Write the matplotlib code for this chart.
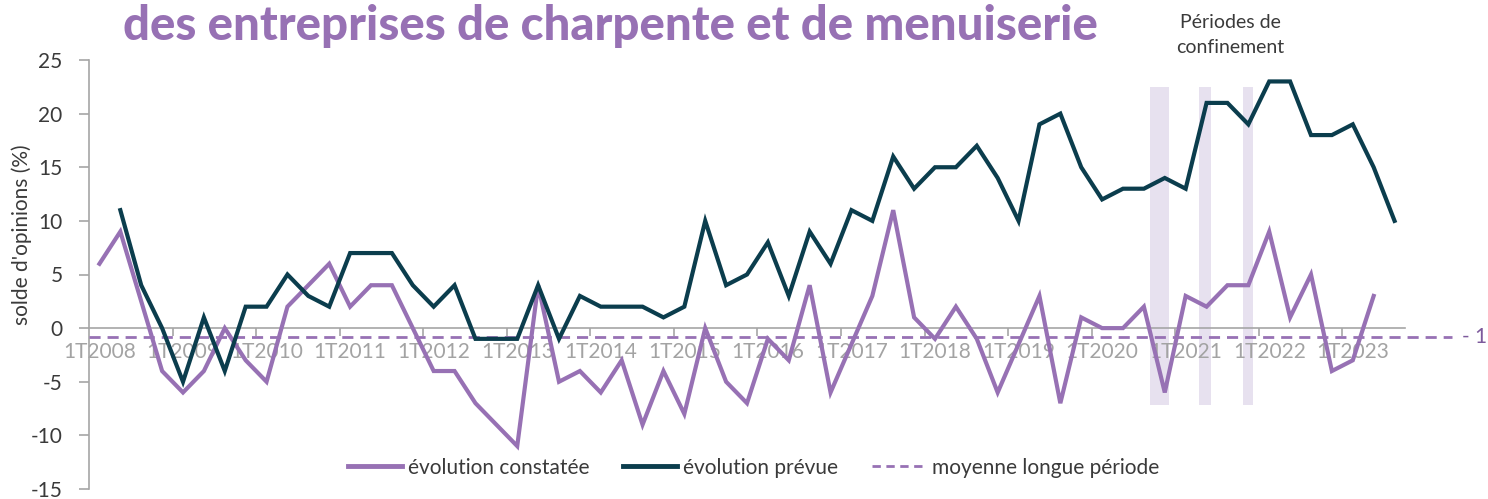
import numpy as np
import matplotlib
matplotlib.use("Agg")
import matplotlib.pyplot as plt
from matplotlib.lines import Line2D

# ---------------- data ----------------
years = list(range(2008, 2024))
quarters = [f"{q}T{y}" for y in years for q in (1, 2, 3, 4)][:63]

evolution_constatee = [6, 9, 2.5, -4, -6, -4, 0, -3, -5, 2, 4, 6, 2, 4, 4, 0,
                       -4, -4, -7, -9, -11, 4, -5, -4, -6, -3, -9, -4, -8, 0, -5, -7,
                       -1, -3, 4, -6, -1.5, 3, 11, 1, -1, 2, -1, -6, -1.5, 3, -7, 1,
                       0, 0, 2, -6, 3, 2, 4, 4, 9, 1, 5, -4, -3, 3, np.nan]
evolution_prevue = [np.nan, 11, 4, 0, -5, 1, -4, 2, 2, 5, 3, 2, 7, 7, 7, 4,
                    2, 4, -1, -1, -1, 4, -1, 3, 2, 2, 2, 1, 2, 10, 4, 5,
                    8, 3, 9, 6, 11, 10, 16, 13, 15, 15, 17, 14, 10, 19, 20, 15,
                    12, 13, 13, 14, 13, 21, 21, 19, 23, 23, 18, 18, 19, 15, 10]
moyenne_longue_periode = -0.8
moyenne_label = "- 1"
# confinement bands (start, end) in quarter-index units
confinements = [(50.3, 51.2), (52.65, 53.2), (54.75, 55.2)]
band_range = (-7.2, 22.5)
yticks = [25, 20, 15, 10, 5, 0, -5, -10, -15]

PURPLE = "#9771B4"
DARK = "#0B3D4D"
BAND = "#E7E1EF"
GRAY = "#A6A6A6"
TXT = "#3A3A3A"

plt.rcParams['font.family'] = ['Lato', 'DejaVu Sans']

W, H = 1488, 499
fig = plt.figure(figsize=(W / 100, H / 100), dpi=100)
left, right, top, bottom = 89, 1405, 60, 489
ax = fig.add_axes([left / W, 1 - bottom / H, (right - left) / W, (bottom - top) / H])
ax.patch.set_alpha(0)

x = np.arange(len(quarters))
ax.set_xlim(-0.5, len(quarters) - 0.5)
ax.set_ylim(-15, 25)

for (a, b) in confinements:
    ax.fill_between([a, b], band_range[0], band_range[1], color=BAND, lw=0, zorder=1)

ax.plot(x, evolution_constatee, color=PURPLE, lw=3, zorder=4, solid_joinstyle='miter')
ax.plot(x, evolution_prevue, color=DARK, lw=3, zorder=5, solid_joinstyle='miter')
ax.plot([-0.5, 64.75], [moyenne_longue_periode] * 2, color=PURPLE, lw=2,
        ls=(0, (4, 2.5)), zorder=3, clip_on=False)
ax.annotate(moyenne_label, xy=(1487 / W, moyenne_longue_periode),
            xycoords=('figure fraction', 'data'), color="#7D5A9C", fontsize=15,
            va='center', ha='right', annotation_clip=False)

# spines
for s in ('top', 'right'):
    ax.spines[s].set_visible(False)
ax.spines['bottom'].set_position(('data', 0))
ax.spines['bottom'].set_color(GRAY)
ax.spines['left'].set_color(GRAY)
ax.spines['bottom'].set_linewidth(1.2)
ax.spines['left'].set_linewidth(1.2)
ax.spines['bottom'].set_zorder(2)

ax.set_yticks(yticks)
ax.set_yticklabels([str(v) for v in yticks], fontsize=15, color=TXT)
ax.tick_params(axis='y', direction='out', length=7, color=GRAY, width=1.2, pad=12)

lab_idx = [i for i in range(len(quarters)) if quarters[i].startswith('1T')]
ax.set_xticks([i - 0.5 for i in lab_idx if i > 0])
ax.set_xticklabels([])
ax.tick_params(axis='x', which='major', direction='out', length=6, color=GRAY, width=1.2)
ax.set_xticks(lab_idx, minor=True)
ax.set_xticklabels([quarters[i] for i in lab_idx], minor=True, fontsize=15,
                   color="#A3A3A3")
ax.tick_params(axis='x', which='minor', length=0, pad=10)
ax.xaxis.set_zorder(2)

fig.text(22 / W, 1 - 235 / H, "solde d'opinions (%)", rotation=90, fontsize=15,
         color=TXT, ha='center', va='center')

fig.text(123 / W, 1 - 40 / H, "des entreprises de charpente et de menuiserie",
         fontsize=34, fontweight='black', color=PURPLE, ha='left', va='baseline')
fig.text(1230 / W, 1 - 35 / H, "Périodes de\nconfinement", fontsize=14,
         color=TXT, ha='center', va='center', linespacing=1.55)

handles = [Line2D([], [], color=PURPLE, lw=3.5),
           Line2D([], [], color=DARK, lw=3.5),
           Line2D([], [], color=PURPLE, lw=2, ls=(0, (3, 2)))]
leg = ax.legend(handles, ["évolution constatée", "évolution prévue", "moyenne longue période"],
                loc='center', bbox_to_anchor=(0.505, 0.05), ncol=3, frameon=False,
                fontsize=15, handlelength=2.6, handletextpad=0.3, columnspacing=1.6)
for t in leg.get_texts():
    t.set_color(TXT)

fig.savefig("out.png", dpi=100)
